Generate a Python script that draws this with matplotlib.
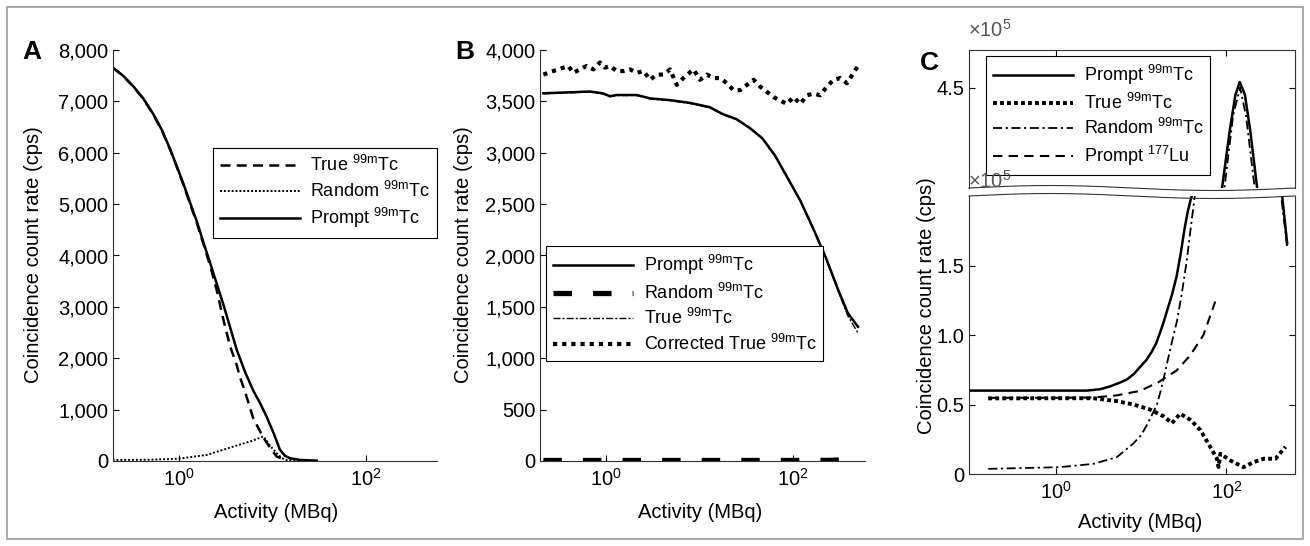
import matplotlib
matplotlib.use("Agg")
import matplotlib.pyplot as plt
from matplotlib.ticker import FuncFormatter, FixedLocator, NullLocator
from matplotlib.lines import Line2D
from matplotlib.patches import Rectangle
import numpy as np

plt.rcParams['font.family'] = ['Liberation Sans', 'DejaVu Sans']
plt.rcParams['mathtext.default'] = 'regular'
plt.rcParams['mathtext.fontset'] = 'custom'
plt.rcParams['mathtext.rm'] = 'Liberation Sans'

TC = r"$^{\mathregular{99m}}$Tc"
LU = r"$^{\mathregular{177}}$Lu"

# ---------------- Panel A data ----------------
a_prompt_x = [0.195, 0.254, 0.325, 0.415, 0.531, 0.653, 0.801, 0.944, 1.11, 1.31, 1.55, 1.82, 2.15, 2.53,
              2.98, 3.51, 4.14, 5.08, 6.24, 7.35, 8.66, 10.2, 12.0, 13.6, 15.4, 19.7, 29.7]
a_prompt_y = [7663, 7495, 7293, 7057, 6754, 6451, 6081, 5744, 5407, 5037, 4667, 4263, 3859, 3455,
              3050, 2613, 2168, 1737, 1367, 1131, 862, 559, 222, 101, 54, 20, 7]
a_true_x = [0.195, 0.254, 0.325, 0.415, 0.531, 0.653, 0.801, 0.944, 1.11, 1.31, 1.55, 1.82, 2.15, 2.53,
            2.98, 3.51, 4.14, 4.49, 5.08, 6.24, 7.98, 9.5, 11.1, 14.2]
a_true_y = [7660, 7490, 7288, 7050, 6745, 6440, 6070, 5730, 5390, 5015, 4640, 4230, 3810, 3330,
            2760, 2242, 1870, 1636, 1350, 828, 458, 250, 88, 7]
a_random_x = [0.195, 0.5, 1.0, 2.0, 3.8, 6.0, 8.0, 9.5, 11.0, 12.5, 14.0, 20.0, 30.0]
a_random_y = [20, 25, 45, 120, 280, 390, 478, 290, 160, 60, 20, 5, 0]

# ---------------- Panel B data ----------------
b_prompt_x = [0.214, 0.35, 0.67, 0.92, 1.1, 1.30, 2.13, 2.96, 4.83, 7.9, 12.8, 17.6, 24.8, 34.3, 46.8,
              63.9, 87.3, 119, 163, 223, 304, 383, 492]
b_prompt_y = [3579, 3586, 3596, 3579, 3550, 3562, 3562, 3529, 3512, 3485, 3444, 3377, 3327, 3242, 3141,
              2973, 2754, 2535, 2266, 1980, 1660, 1441, 1306]
b_true_x = [0.214, 0.35, 0.67, 0.92, 1.1, 1.30, 2.13, 2.96, 4.83, 7.9, 12.8, 17.6, 24.8, 34.3, 46.8,
            63.9, 87.3, 119, 163, 223, 304, 383, 492]
b_true_y = [3574, 3581, 3591, 3574, 3545, 3557, 3557, 3524, 3507, 3480, 3439, 3372, 3322, 3237, 3136,
            2968, 2749, 2530, 2260, 1972, 1650, 1414, 1246]
b_random_x = [0.214, 1.0, 10.0, 100.0, 250.0, 300.0, 400.0, 492]
b_random_y = [5, 5, 5, 5, 6, 10, 27, 60]
b_corr_x = [0.214, 0.273, 0.350, 0.395, 0.447, 0.527, 0.621, 0.732, 0.863, 0.976, 1.10, 1.30, 1.53, 1.81,
            2.13, 2.51, 2.96, 3.48, 4.10, 4.83, 5.70, 6.71, 8.59, 10.1, 11.9, 14.1, 16.6, 19.5, 23.0, 27.1,
            32.0, 37.7, 44.4, 52.3, 61.6, 72.6, 85.6, 101, 119, 140, 165, 194, 229, 270, 318, 375, 442, 492]
b_corr_y = [3761, 3795, 3828, 3845, 3778, 3811, 3845, 3811, 3879, 3828, 3845, 3795, 3795, 3811, 3778,
            3795, 3710, 3761, 3761, 3811, 3660, 3727, 3811, 3710, 3761, 3727, 3727, 3677, 3609, 3609,
            3660, 3710, 3643, 3593, 3542, 3508, 3475, 3542, 3475, 3559, 3576, 3559, 3643, 3710, 3727,
            3677, 3778, 3845]

# ---------------- Panel C data (units of 1e5 cps) ----------------
c_prompt_x = [0.095, 1.0, 2.3, 3.3, 4.3, 5.5, 6.8, 8.2, 9.7, 11.5, 13.3, 15.0, 16.7, 18.3, 20.0, 23.0, 26.0,
              29.0, 32.0, 35.0, 38.0, 40.0, 55, 75, 89, 110, 128, 143.5, 165, 190, 230, 300, 452, 518]
c_prompt_y = [0.60, 0.60, 0.60, 0.61, 0.63, 0.655, 0.68, 0.72, 0.77, 0.82, 0.88, 0.94, 1.02, 1.09, 1.17,
              1.29, 1.42, 1.58, 1.75, 1.88, 1.97, 2.02, 2.8, 3.45, 3.78, 4.2, 4.45, 4.54, 4.45, 4.2, 3.78,
              3.0, 2.0, 1.66]
c_true_x = [0.16, 1.0, 2.75, 5.2, 8.1, 12.8, 18.3, 23.0, 28.7, 37.7, 49.4, 64.7, 77.6, 81.0, 85.0, 111,
            159, 209, 275, 378, 495]
c_true_y = [0.544, 0.545, 0.545, 0.524, 0.50, 0.463, 0.415, 0.366, 0.434, 0.39, 0.317, 0.195, 0.11, 0.05,
            0.146, 0.098, 0.049, 0.085, 0.11, 0.11, 0.195]
c_random_x = [0.16, 1.1, 2.75, 5.2, 8.1, 10.0, 11.7, 13.5, 15.3, 16.8, 18.3, 20.0, 22.0, 24.0, 26.3, 30.0,
              34.0, 38.0, 43.0, 60, 80, 95, 120, 145, 170, 215, 300, 450, 518]
c_random_y = [0.037, 0.049, 0.073, 0.122, 0.22, 0.28, 0.354, 0.43, 0.50, 0.59, 0.683, 0.79, 0.90, 1.0,
              1.10, 1.30, 1.52, 1.76, 2.02, 2.9, 3.5, 3.78, 4.3, 4.5, 4.3, 3.78, 2.9, 1.95, 1.63]
c_lu_x = [0.16, 1.0, 2.75, 5.2, 9.7, 15.9, 26.0, 37.7, 53.8, 74.0]
c_lu_y = [0.548, 0.548, 0.55, 0.566, 0.598, 0.66, 0.744, 0.854, 1.0, 1.24]

W, H = 1310, 546
fig = plt.figure(figsize=(W / 100, H / 100), dpi=100)
fig.patch.set_facecolor('white')

def fx(px):
    return px / W

def fy(py):
    return 1 - py / H

def rect(l, t, r, b):
    return [fx(l), fy(b), (r - l) / W, (b - t) / H]

FS = 14.5
LFS = 13
LW = 1.8

def style_ax(ax, box=False):
    ax.set_xscale('log')
    ax.xaxis.set_major_locator(FixedLocator([1, 100]))
    ax.xaxis.set_minor_locator(NullLocator())
    ax.tick_params(direction='in', length=4, width=0.8, labelsize=FS, colors='black')
    ax.tick_params(axis='x', pad=5)
    if not box:
        ax.spines['top'].set_visible(False)
        ax.spines['right'].set_visible(False)
    for s in ax.spines.values():
        s.set_linewidth(0.8)
        s.set_color('#333333')

def add_legend(ax, x, y, hl=4.0):
    leg = ax.legend(loc='upper left', bbox_to_anchor=(fx(x), fy(y)), bbox_transform=fig.transFigure,
                    fontsize=LFS, frameon=True, fancybox=False, edgecolor='black', framealpha=1,
                    handlelength=hl, borderpad=0.4, labelspacing=0.3, handletextpad=0.6,
                    borderaxespad=0)
    leg.get_frame().set_linewidth(0.8)
    return leg

comma = FuncFormatter(lambda v, p: f"{v:,.0f}")

# ---------- Panel A ----------
axA = fig.add_axes(rect(113, 50, 437, 461))
style_ax(axA)
axA.plot(a_true_x, a_true_y, color='black', lw=LW, ls=(0, (4, 2.5)), label='True ' + TC)
axA.plot(a_random_x, a_random_y, color='black', lw=1.4, ls=(0, (1, 1)), label='Random ' + TC)
axA.plot(a_prompt_x, a_prompt_y, color='black', lw=LW, ls='-', label='Prompt ' + TC)
axA.set_xlim(0.197, 575)
axA.set_ylim(0, 8000)
axA.set_yticks(range(0, 8001, 1000))
axA.yaxis.set_major_formatter(comma)
add_legend(axA, 213, 148, hl=4.4)

# ---------- Panel B ----------
axB = fig.add_axes(rect(540, 50, 865, 461))
style_ax(axB)
axB.plot(b_prompt_x, b_prompt_y, color='black', lw=LW, ls='-', label='Prompt ' + TC)
axB.plot(b_random_x, b_random_y, color='black', lw=3.8, ls=(0, (3.5, 4)), label='Random ' + TC)
axB.plot(b_true_x, b_true_y, color='black', lw=1.0, ls=(0, (5, 1.5, 1.5, 1.5)), label='True ' + TC)
axB.plot(b_corr_x, b_corr_y, color='black', lw=3.0, ls=(0, (1, 1.2)), label='Corrected True ' + TC)
axB.set_xlim(0.197, 585)
axB.set_ylim(0, 4000)
axB.set_yticks(range(0, 4001, 500))
axB.yaxis.set_major_formatter(comma)
add_legend(axB, 546, 246, hl=4.4)

# ---------- Panel C (broken axis) ----------
c_left, c_right = 969, 1295
up_top, up_bot = 50, 188
lo_top, lo_bot = 196, 474
axCu = fig.add_axes(rect(c_left, up_top, c_right, up_bot))
axCl = fig.add_axes(rect(c_left, lo_top, c_right, lo_bot))
for ax in (axCu, axCl):
    style_ax(ax, box=True)
    ax.set_xlim(0.095, 640)
    ax.plot(c_prompt_x, c_prompt_y, color='black', lw=LW, ls='-', label='Prompt ' + TC)
    ax.plot(c_true_x, c_true_y, color='black', lw=2.8, ls=(0, (1, 0.8)), label='True ' + TC)
    ax.plot(c_random_x, c_random_y, color='black', lw=1.3, ls=(0, (5, 2, 1.2, 2)), label='Random ' + TC)
    ax.plot(c_lu_x, c_lu_y, color='black', lw=1.5, ls=(0, (4.5, 3)), label='Prompt ' + LU)
axCu.set_ylim(3.78, 4.77)
axCu.set_yticks([4.5])
axCu.yaxis.set_major_formatter(FuncFormatter(lambda v, p: f"{v:.1f}"))
axCu.spines['bottom'].set_visible(False)
axCu.tick_params(axis='x', which='both', bottom=False, labelbottom=False, top=True)
axCu.tick_params(axis='y', right=True)
axCl.set_ylim(0, 2.0)
axCl.set_yticks([0, 0.5, 1.0, 1.5])
axCl.yaxis.set_major_formatter(FuncFormatter(lambda v, p: '0' if v == 0 else f"{v:.1f}"))
axCl.spines['top'].set_visible(False)
axCl.tick_params(axis='y', right=True)
add_legend(axCu, 986, 56, hl=4.4)

# wavy break lines
xs = np.linspace(c_left, c_right, 200)
ph = (xs - c_left) / (c_right - c_left)
for base in (up_bot, lo_top):
    ys = base - 2.5 * np.sin(2 * np.pi * ph)
    fig.add_artist(Line2D(fx(xs), fy(ys), transform=fig.transFigure, color='#333333', lw=0.8))

# x10^5 labels
fig.text(fx(968), fy(30), r'$\times10^{5}$', fontsize=FS, color='#555555', ha='left', va='center')
fig.text(fx(968), fy(181), r'$\times10^{5}$', fontsize=FS, color='#555555', ha='left', va='center')

# axis labels
for cx, cy in ((34, 255), (463, 255), (926, 306)):
    fig.text(fx(cx), fy(cy), 'Coincidence count rate (cps)', rotation=90, fontsize=FS,
             ha='center', va='center')
for cx, cy in ((276, 512), (700, 512), (1140, 522)):
    fig.text(fx(cx), fy(cy), 'Activity (MBq)', fontsize=FS, ha='center', va='center')

# panel letters
fig.text(fx(22), fy(52), 'A', fontsize=19, fontweight='bold', ha='left', va='center')
fig.text(fx(455), fy(52), 'B', fontsize=19, fontweight='bold', ha='left', va='center')
fig.text(fx(920), fy(63), 'C', fontsize=19, fontweight='bold', ha='left', va='center')

# figure frame
fig.add_artist(Rectangle((fx(7), fy(539)), (1303 - 7) / W, (539 - 7) / H, transform=fig.transFigure,
                         fill=False, edgecolor='#9a9a9a', lw=1.2))

fig.savefig('out.png', dpi=100)
